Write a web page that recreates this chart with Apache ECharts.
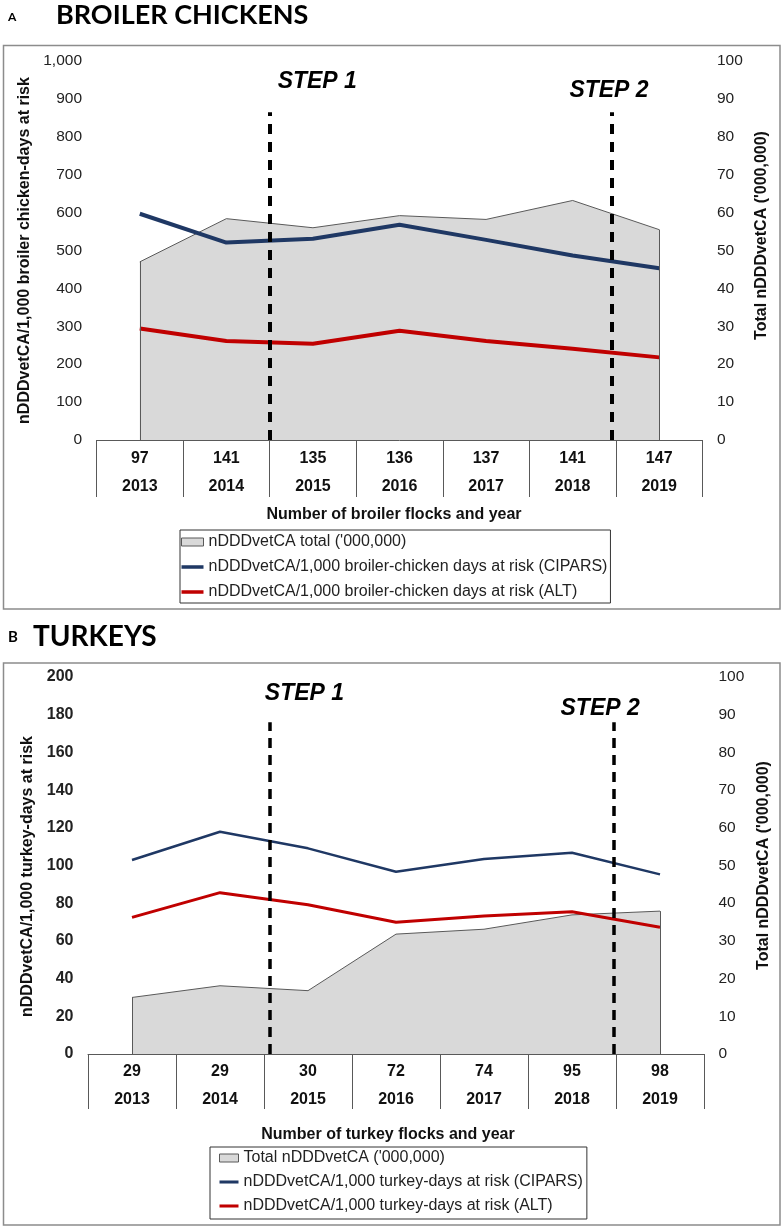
<!DOCTYPE html>
<html>
<head>
<meta charset="utf-8">
<script src="https://cdn.jsdelivr.net/npm/echarts@6/dist/echarts.min.js"></script>
<style>
  html, body { margin: 0; padding: 0; background: #fff; }
  #chart { width: 784px; height: 1230px; }
</style>
</head>
<body>
<div id="chart"></div>
<script>
// data
const years = ['2013', '2014', '2015', '2016', '2017', '2018', '2019'];

const broilerFlocks = [97, 141, 135, 136, 137, 141, 147];
const broilerTotal = [47, 58.4, 56, 59.2, 58.2, 63.2, 55.5];        // '000,000 (right axis)
const broilerCipars = [597, 521, 531, 568, 528, 487, 453];
const broilerAlt = [294, 261, 254, 288, 261, 241, 218];

const turkeyFlocks = [29, 29, 30, 72, 74, 95, 98];
const turkeyTotal = [15.0, 18.1, 16.8, 31.8, 33.1, 36.9, 37.9];     // '000,000 (right axis)
const turkeyCipars = [102.9, 117.9, 109.1, 96.7, 103.4, 106.8, 95.3];
const turkeyAlt = [72.5, 85.6, 79.2, 69.9, 73.2, 75.5, 67.2];

// step markers (position along the 0..7 band scale, top of the dashed line)
const stepsA = [{ name: 'STEP 1', x: 2, top: 865, lx: 2.55, ly: 945 },
                { name: 'STEP 2', x: 5.95, top: 865, lx: 5.92, ly: 923 }];
const stepsB = [{ name: 'STEP 1', x: 2.06, top: 176, lx: 2.46, ly: 191 },
                { name: 'STEP 2', x: 5.98, top: 176, lx: 5.82, ly: 183 }];

const legendA = ["nDDDvetCA total ('000,000)",
                 'nDDDvetCA/1,000 broiler-chicken days at risk (CIPARS)',
                 'nDDDvetCA/1,000 broiler-chicken days at risk (ALT)'];
const legendB = ["Total nDDDvetCA ('000,000)",
                 'nDDDvetCA/1,000 turkey-days at risk (CIPARS)',
                 'nDDDvetCA/1,000 turkey-days at risk (ALT)'];

const FONT = '"Liberation Sans", Arial, sans-serif';
const NAVY = '#1f3864';
const RED = '#c00000';
const GREY = '#595959';

var chart = echarts.init(document.getElementById('chart'));

function catAxis(grid, flocks, tickLen, margin) {
    return {
        type: 'category', gridIndex: grid, data: years, boundaryGap: true,
        axisLine: { lineStyle: { color: GREY, width: 1 } },
        axisTick: { show: true, interval: 0, length: tickLen, lineStyle: { color: GREY, width: 1 } },
        axisLabel: {
            interval: 0, margin: margin, lineHeight: 28,
            fontFamily: FONT, fontSize: 16, fontWeight: 'bold', color: '#111',
            formatter: (v, i) => flocks[i] + '\n' + v
        }
    };
}

function bandAxis(grid) {
    return { type: 'value', gridIndex: grid, min: 0, max: 7, show: false };
}

function valAxis(grid, pos, max, interval, name, gap, bold, pad) {
    return {
        type: 'value', gridIndex: grid, position: pos, min: 0, max: max, interval: interval,
        splitLine: { show: false }, axisLine: { show: false }, axisTick: { show: false },
        axisLabel: {
            margin: 14.5, fontFamily: FONT, fontSize: bold ? 16 : 15.5,
            fontWeight: bold ? 'bold' : 'normal', color: '#222',
            formatter: v => v.toLocaleString('en-US')
        },
        name: name, nameLocation: 'middle', nameRotate: 90, nameGap: gap,
        nameTextStyle: { fontFamily: FONT, fontSize: 16, fontWeight: 'bold', color: '#111', padding: pad }
    };
}

function areaSeries(name, x, y, data) {
    return {
        name: name, type: 'line', xAxisIndex: x, yAxisIndex: y, data: data,
        symbol: 'none', z: 1, silent: true,
        lineStyle: { color: GREY, width: 1 },
        areaStyle: { color: '#d9d9d9', opacity: 1 },
        itemStyle: { color: '#d9d9d9' },
        markLine: {
            silent: true, symbol: 'none', label: { show: false },
            lineStyle: { color: GREY, width: 1, type: 'solid' },
            data: [
                [{ coord: [years[0], 0] }, { coord: [years[0], data[0]] }],
                [{ coord: [years[6], 0] }, { coord: [years[6], data[6]] }]
            ]
        }
    };
}

function lineSeries(name, x, y, data, color, width) {
    return {
        name: name, type: 'line', xAxisIndex: x, yAxisIndex: y, data: data,
        symbol: 'none', z: 3, lineStyle: { color: color, width: width },
        itemStyle: { color: color }
    };
}

function stepSeries(x, y, steps, width, dash, fontSize) {
    return {
        name: 'steps', type: 'line', xAxisIndex: x, yAxisIndex: y, data: [], z: 5,
        markLine: {
            silent: true, symbol: 'none', label: { show: false },
            lineStyle: { color: '#000', width: width, type: dash },
            data: steps.map(s => [{ coord: [s.x, 0] }, { coord: [s.x, s.top] }])
        },
        markPoint: {
            silent: true, symbol: 'rect', symbolSize: 1,
            itemStyle: { color: 'rgba(0,0,0,0)' },
            label: {
                show: true, position: 'inside', formatter: '{b}', color: '#000',
                fontFamily: FONT, fontSize: fontSize, fontWeight: 'bold', fontStyle: 'italic'
            },
            data: steps.map(s => ({ name: s.name, coord: [s.lx, s.ly] }))
        }
    };
}

function legend(names, left, top, pad, gap, iconW) {
    return {
        orient: 'vertical', left: left, top: top, padding: pad, itemGap: gap,
        itemWidth: iconW, itemHeight: 8,
        borderColor: '#333', borderWidth: 1, selectedMode: false,
        textStyle: { fontFamily: FONT, fontSize: 16, color: '#222', lineHeight: 18 },
        data: [
            { name: names[0], icon: 'rect', itemStyle: { color: '#d9d9d9', borderColor: GREY, borderWidth: 1 } },
            { name: names[1], icon: 'path://M0,0H25V4H0Z', itemStyle: { color: NAVY, borderWidth: 0 } },
            { name: names[2], icon: 'path://M0,0H25V4H0Z', itemStyle: { color: RED, borderWidth: 0 } }
        ]
    };
}

var option = {
    animation: false,
    title: [
        { text: 'A', left: 8, top: 11, padding: 0, textStyle: { fontFamily: 'Lato', fontSize: 12, fontWeight: 'bold', color: '#000' } },
        { text: 'BROILER CHICKENS', left: 56, top: 2, padding: 0, textStyle: { fontFamily: 'Lato', fontSize: 27, fontWeight: 'bold', color: '#000' } },
        { text: 'B', left: 8, top: 630, padding: 0, textStyle: { fontFamily: 'Lato', fontSize: 15, fontWeight: 'bold', color: '#000' } },
        { text: 'TURKEYS', left: 33, top: 623, padding: 0, textStyle: { fontFamily: 'Lato', fontSize: 28, fontWeight: 'bold', color: '#000' } },
        { text: 'Number of broiler flocks and year', left: 394, top: 507, textAlign: 'center', padding: 0,
          textStyle: { fontFamily: FONT, fontSize: 16, fontWeight: 'bold', color: '#111' } },
        { text: 'Number of turkey flocks and year', left: 388, top: 1127, textAlign: 'center', padding: 0,
          textStyle: { fontFamily: FONT, fontSize: 16, fontWeight: 'bold', color: '#111' } }
    ],
    graphic: [
        { type: 'rect', shape: { x: 3.5, y: 45.5, width: 776.5, height: 563.5 }, style: { fill: 'none', stroke: '#8c8c8c', lineWidth: 1.5 }, silent: true },
        { type: 'rect', shape: { x: 3.5, y: 663, width: 776.5, height: 562 }, style: { fill: 'none', stroke: '#8c8c8c', lineWidth: 1.5 }, silent: true }
    ],
    grid: [
        { left: 96.5, width: 606, top: 61, height: 379 },
        { left: 88, width: 616, top: 677, height: 377 }
    ],
    xAxis: [
        catAxis(0, broilerFlocks, 57, 5),
        bandAxis(0),
        catAxis(1, turkeyFlocks, 55, 4),
        bandAxis(1)
    ],
    yAxis: [
        valAxis(0, 'left', 1000, 100, 'nDDDvetCA/1,000 broiler chicken-days at risk', 57, false, 0),
        valAxis(0, 'right', 100, 10, "Total nDDDvetCA ('000,000)", 48, false, [0, 0, 0, 30]),
        valAxis(1, 'left', 200, 20, 'nDDDvetCA/1,000 turkey-days at risk', 50, true, [0, 22, 0, 0]),
        valAxis(1, 'right', 100, 10, "Total nDDDvetCA ('000,000)", 45, false, 0)
    ],
    legend: [
        legend(legendA, 180, 530, [3, 3, 2, 1], 7, 22),
        legend(legendB, 210, 1147, [2, 4, 4, 9], 6, 19)
    ],
    series: [
        areaSeries(legendA[0], 0, 1, broilerTotal),
        lineSeries(legendA[1], 0, 0, broilerCipars, NAVY, 4),
        lineSeries(legendA[2], 0, 0, broilerAlt, RED, 4),
        stepSeries(1, 0, stepsA, 4, [10, 8], 23),

        areaSeries(legendB[0], 2, 3, turkeyTotal),
        lineSeries(legendB[1], 2, 2, turkeyCipars, NAVY, 2.5),
        lineSeries(legendB[2], 2, 2, turkeyAlt, RED, 3),
        stepSeries(3, 2, stepsB, 3.5, [10, 7], 23)
    ]
};

chart.setOption(option);
window.addEventListener('resize', chart.resize);
</script>
</body>
</html>
